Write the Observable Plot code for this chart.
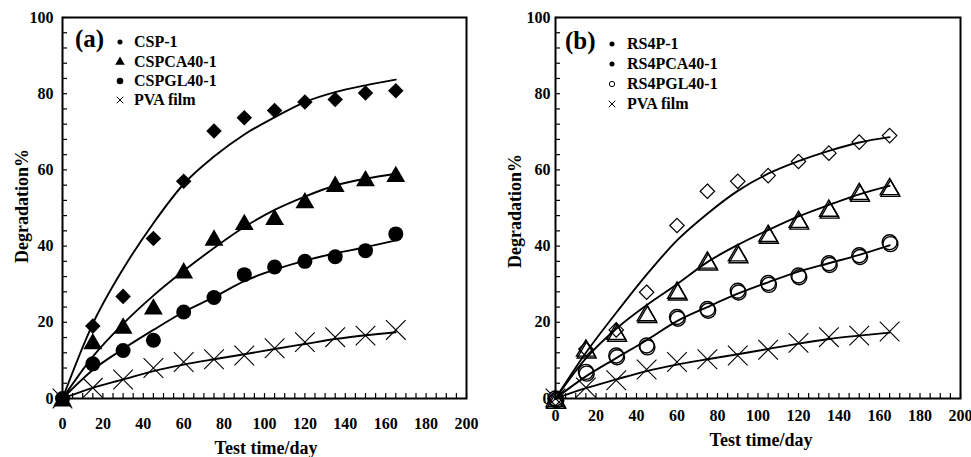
<!DOCTYPE html>
<html>
<head>
<meta charset="utf-8">
<script src="https://cdn.jsdelivr.net/npm/d3@7"></script>
<script src="https://cdn.jsdelivr.net/npm/@observablehq/plot@0.6"></script>
<style>
  body { margin: 0; background: #fff; }
  #wrap { position: relative; width: 971px; height: 457px; overflow: hidden;
          font-family: "Liberation Serif", "Times New Roman", serif; font-weight: bold; color: #000; background: #fff; }
  .panel { position: absolute; top: 0; }
  .title { position: absolute; font-size: 18px; line-height: 1; white-space: nowrap; transform: translate(-50%, -50%); }
  .ytitle { position: absolute; font-size: 18px; line-height: 1; white-space: nowrap; transform: translate(-50%, -50%) rotate(-90deg); }
  .tag { position: absolute; font-size: 25px; line-height: 1; white-space: nowrap; transform: translateY(-50%); }
  .leg { position: absolute; font-size: 16px; line-height: 1; white-space: nowrap; transform: translateY(-50%); }
  .legsym { position: absolute; }
</style>
</head>
<body>
<div id="wrap"></div>
<script>
// ---------- data ----------
const days = [0, 15, 30, 45, 60, 75, 90, 105, 120, 135, 150, 165];
const xLabelTicks = [0, 20, 40, 60, 80, 100, 120, 140, 160, 180, 200];
const yLabelTicks = [0, 20, 40, 60, 80, 100];
const xMinorTicks = d3.range(0, 201, 5);
const yMinorTicks = d3.range(0, 101, 4);

// panel (a) measured points
const cspPts    = [0, 19.0, 26.8, 42.0, 57.0, 70.2, 73.7, 75.6, 77.8, 78.5, 80.2, 80.8];
const cspcaPts  = [0, 15.0, 19.1, 24.1, 33.6, 42.2, 46.3, 47.6, 52.0, 56.3, 57.8, 58.9];
const cspglPts  = [0, 9.1, 12.6, 15.3, 22.7, 26.5, 32.5, 34.5, 36.0, 37.2, 38.8, 43.2];
const pvaPtsA   = [0, 2.8, 5.0, 8.0, 9.6, 10.3, 11.3, 13.2, 14.8, 16.1, 16.5, 18.0];
// panel (a) fitted curves
const cspFit    = [0, 19.6, 34.0, 46.0, 56.3, 63.5, 69.3, 73.8, 77.8, 80.4, 82.2, 83.7];
const cspcaFit  = [0, 11.0, 19.6, 27.0, 33.5, 39.5, 45.0, 49.5, 53.0, 55.9, 57.7, 59.0];
const cspglFit  = [0, 7.5, 13.0, 18.0, 22.7, 26.6, 30.8, 33.8, 36.2, 38.1, 39.7, 41.5];
const pvaFitA   = [0, 2.8, 5.0, 7.2, 8.9, 10.3, 11.6, 13.0, 14.3, 15.6, 16.6, 17.4];

// panel (b) measured points
const rs4pPts   = [0, 13.0, 18.0, 27.9, 45.4, 54.4, 57.0, 58.5, 62.2, 64.4, 67.3, 69.0];
const rs4pcaPts = [0, 13.2, 17.6, 22.5, 28.4, 36.3, 38.2, 43.3, 47.0, 49.9, 54.3, 55.6];
const rs4pglPts = [0, 7.0, 11.3, 13.9, 21.4, 23.5, 28.3, 30.3, 32.3, 35.5, 37.6, 41.0];
const pvaPtsB   = [0, 2.9, 4.8, 7.6, 9.6, 10.3, 11.3, 12.8, 14.6, 16.1, 16.5, 17.6];
// panel (b) fitted curves
const rs4pFit   = [0, 12.0, 22.5, 32.5, 41.5, 48.5, 54.5, 59.0, 62.3, 65.0, 67.2, 68.6];
const rs4pcaFit = [0, 10.5, 18.3, 24.5, 30.0, 35.8, 40.3, 44.2, 47.8, 50.8, 53.6, 55.8];
const rs4pglFit = [0, 5.8, 10.6, 15.3, 20.3, 24.0, 27.5, 30.5, 33.3, 35.5, 37.7, 40.2];
const pvaFitB   = [0, 2.7, 5.0, 7.2, 8.9, 10.3, 11.6, 13.0, 14.4, 15.6, 16.5, 17.3];

const legendA = ["CSP-1", "CSPCA40-1", "CSPGL40-1", "PVA film"];
const legendB = ["RS4P-1", "RS4PCA40-1", "RS4PGL40-1", "PVA film"];
const xTitle = "Test time/day";
const yTitle = "Degradation%";

// ---------- helpers ----------
const rows = ys => days.map((d, i) => ({day: d, value: ys[i]}));
const H = 457, MT = 17, MB = 59;

function makePanel(cfg) {
  const plotW = cfg.width - cfg.ml - cfg.mr;
  const plotH = H - MT - MB;
  const marks = [
    Plot.tickX(xMinorTicks, {x: d => d, insetTop: plotH - 5, strokeWidth: 1.2}),
    Plot.tickY(yMinorTicks, {y: d => d, insetRight: plotW - 5, strokeWidth: 1.2}),
    Plot.axisX(xLabelTicks, {tickSize: 0, tickPadding: cfg.xPad, fontSize: 16, fontWeight: "bold", label: null}),
    Plot.axisY(yLabelTicks, {tickSize: 0, tickPadding: cfg.yPad, fontSize: 16, fontWeight: "bold", label: null}),
    Plot.frame({stroke: "black", strokeWidth: 2})
  ];
  for (const f of cfg.fits) {
    marks.push(Plot.line(rows(f), {x: "day", y: "value", curve: "monotone-x", stroke: "black", strokeWidth: 1.9}));
  }
  for (const s of cfg.series) {
    if (s.shadow) {
      marks.push(Plot.dot(rows(s.ys), {x: "day", y: "value", symbol: s.symbol, r: s.r, fill: "none", stroke: "black",
        strokeWidth: s.sw, dx: 0.8, dy: (s.dy || 0) + 1.8}));
    }
    marks.push(Plot.dot(rows(s.ys), {x: "day", y: "value", symbol: s.symbol, r: s.r,
      fill: s.fill || "none", stroke: s.stroke || (s.fill ? "none" : "black"), strokeWidth: s.sw || 1, dy: s.dy || 0}));
  }
  const svg = Plot.plot({
    width: cfg.width, height: H,
    marginLeft: cfg.ml, marginRight: cfg.mr, marginTop: MT, marginBottom: MB,
    x: {domain: [0, 200]},
    y: {domain: [0, 100]},
    style: {background: "white", color: "black", fontFamily: "'Liberation Serif', 'Times New Roman', serif", fontWeight: "bold", fontSize: "16px", overflow: "visible"},
    marks
  });
  const div = document.createElement("div");
  div.className = "panel";
  div.style.left = cfg.left + "px";
  div.appendChild(svg);
  return div;
}

const wrap = document.getElementById("wrap");

wrap.appendChild(makePanel({
  left: 0, width: 485, ml: 62, mr: 19, xPad: 19, yPad: 9,
  fits: [cspFit, cspcaFit, cspglFit, pvaFitA],
  series: [
    {ys: cspPts, symbol: "diamond2", r: 7, fill: "black"},
    {ys: cspcaPts, symbol: "triangle", r: 7, fill: "black", dy: 2.5},
    {ys: cspglPts, symbol: "circle", r: 7.5, fill: "black"},
    {ys: pvaPtsA, symbol: "times", r: 9, sw: 1.1}
  ]
}));

wrap.appendChild(makePanel({
  left: 490, width: 481, ml: 65, mr: 11, xPad: 11, yPad: 5,
  fits: [rs4pFit, rs4pcaFit, rs4pglFit, pvaFitB],
  series: [
    {ys: rs4pPts, symbol: "diamond2", r: 6.5, sw: 1.2},
    {ys: rs4pcaPts, symbol: "triangle", r: 7, sw: 1.4, dy: 2.5, shadow: true},
    {ys: rs4pglPts, symbol: "circle", r: 7.5, sw: 1.4, shadow: true},
    {ys: pvaPtsB, symbol: "times", r: 9, sw: 1.1}
  ]
}));

// ---------- titles & legends (html overlay) ----------
function addText(cls, text, x, y) {
  const d = document.createElement("div");
  d.className = cls; d.textContent = text;
  d.style.left = x + "px"; d.style.top = y + "px";
  wrap.appendChild(d);
  return d;
}
addText("title", xTitle, 266, 448);
addText("title", xTitle, 761, 440);
addText("ytitle", yTitle, 22, 206);
addText("ytitle", yTitle, 515, 211);

function legSym(type, x, y) {
  const size = 14;
  const s = d3.create("svg").attr("width", size).attr("height", size)
    .attr("class", "legsym").style("left", (x - size / 2) + "px").style("top", (y - size / 2) + "px");
  const g = s.append("g").attr("transform", `translate(${size / 2},${size / 2})`);
  const map = {
    dot: [d3.symbolCircle, 20, "black", "none"],
    bigdot: [d3.symbolCircle, 34, "black", "none"],
    tri: [d3.symbolTriangle, 40, "black", "none"],
    ring: [d3.symbolCircle, 22, "none", "black"],
    times: [d3.symbolTimes, 30, "none", "black"]
  };
  const [sym, area, fill, stroke] = map[type];
  g.append("path").attr("d", d3.symbol(sym, area)()).attr("fill", fill).attr("stroke", stroke).attr("stroke-width", 1);
  wrap.appendChild(s.node());
}

// panel (a)
addText("tag", "(a)", 75, 38);
const rowsA = [42, 62, 81, 100];
const symsA = ["dot", "tri", "bigdot", "times"];
legendA.forEach((t, i) => { legSym(symsA[i], 120, rowsA[i]); addText("leg", t, 134, rowsA[i]); });

// panel (b)
addText("tag", "(b)", 565, 40);
const rowsB = [44, 64, 84, 104];
const symsB = ["dot", "dot", "ring", "times"];
legendB.forEach((t, i) => { legSym(symsB[i], 612, rowsB[i]); addText("leg", t, 627, rowsB[i]); });
</script>
</body>
</html>
